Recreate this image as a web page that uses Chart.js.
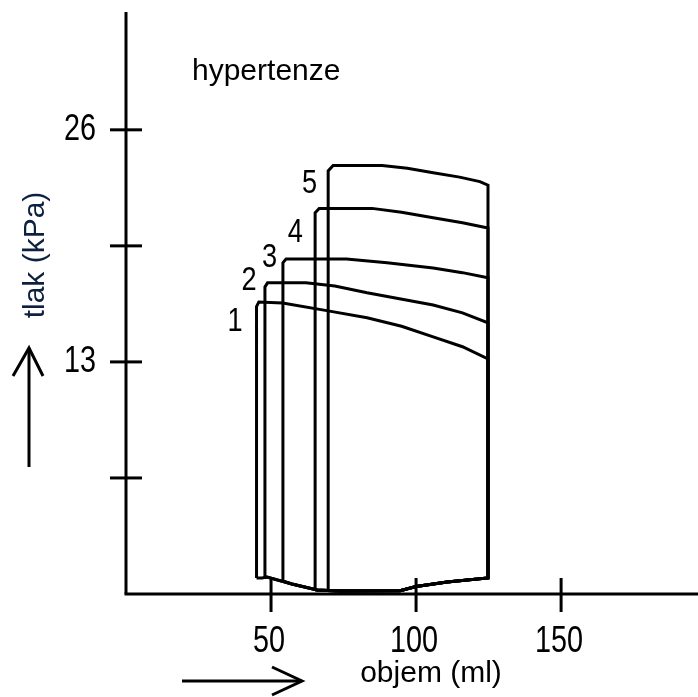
<!DOCTYPE html>
<html>
<head>
<meta charset="utf-8">
<title>hypertenze</title>
<script src="https://cdn.jsdelivr.net/npm/chart.js@4.4.1/dist/chart.umd.min.js"></script>
<style>
    html, body { margin: 0; padding: 0; background: #fff; }
    canvas { display: block; }
</style>
</head>
<body>
<canvas id="pvChart" width="698" height="697"></canvas>
<script>
// P-V loops, volume in ml, pressure in kPa
const loop1Vol = [45, 45, 45.8, 54, 69.7, 83.1, 95, 105.9, 116, 124.8, 124.8, 110.7, 100, 94.5, 73.8, 65.9, 57.2, 48.6, 46.9, 45];
const loop1Pres = [0.9, 16.1, 16.36, 16.3, 15.86, 15.47, 15.0, 14.4, 13.85, 13.17, 0.9, 0.67, 0.42, 0.18, 0.17, 0.22, 0.56, 0.95, 0.9, 0.9];

const loop2Vol = [47.9, 47.9, 48.8, 62, 72, 83.1, 105.9, 116, 124.8, 124.8, 110.7, 100, 94.5, 73.8, 65.9, 57.2, 48.6, 47.9];
const loop2Pres = [0.92, 17.2, 17.43, 17.43, 17.25, 16.87, 16.19, 15.75, 15.19, 0.9, 0.67, 0.42, 0.18, 0.17, 0.22, 0.56, 0.95, 0.92];

const loop3Vol = [54.1, 54.1, 55.2, 76, 90, 105.9, 116, 124.8, 124.8, 110.7, 100, 94.5, 73.8, 65.9, 57.2, 54.1];
const loop3Pres = [0.73, 18.55, 18.77, 18.77, 18.55, 18.26, 18.0, 17.71, 0.9, 0.67, 0.42, 0.18, 0.17, 0.22, 0.56, 0.73];

const loop4Vol = [65.2, 65.2, 66.6, 84.8, 95, 105.9, 116, 124.8, 124.8, 110.7, 100, 94.5, 73.8, 65.2];
const loop4Pres = [0.22, 21.35, 21.6, 21.6, 21.38, 21.07, 20.8, 20.5, 0.9, 0.67, 0.42, 0.18, 0.17, 0.22];

const loop5Vol = [69.7, 69.7, 71.4, 88.3, 97, 105.9, 115, 122, 124.8, 124.8, 110.7, 100, 94.5, 73.8, 69.7];
const loop5Pres = [0.18, 23.7, 24.0, 24.0, 23.85, 23.6, 23.35, 23.1, 22.9, 0.9, 0.67, 0.42, 0.18, 0.17, 0.18];

// loop numbers and where they sit
const loopNames = ["1", "2", "3", "4", "5"];
const labelVol = [37.6, 42.4, 49.5, 58.4, 63.3];
const labelPres = [15.27, 17.57, 18.86, 20.26, 22.97];

// axes
const xMax = 197.2;
const yMax = 32.6;
const xTickValues = [50, 100, 150];
const xTickLabels = ["50", "100", "150"];
const yTickValues = [6.5, 13, 19.5, 26];
const yTickLabels = ["", "13", "", "26"];

const titleText = "hypertenze";
const xTitle = "objem (ml)";
const yTitle = "tlak (kPa)";

const FONT = "'Liberation Sans', Arial, sans-serif";

function toPoints(vol, pres) {
    return vol.map((v, i) => ({ x: v, y: pres[i] }));
}

const loops = [
    toPoints(loop1Vol, loop1Pres),
    toPoints(loop2Vol, loop2Pres),
    toPoints(loop3Vol, loop3Pres),
    toPoints(loop4Vol, loop4Pres),
    toPoints(loop5Vol, loop5Pres)
];

function narrowText(ctx, text, x, y, align, sx) {
    ctx.save();
    ctx.translate(x, y);
    ctx.scale(sx, 1);
    ctx.textAlign = align;
    ctx.fillText(text, 0, 0);
    ctx.restore();
}

function line(ctx, x1, y1, x2, y2) {
    ctx.beginPath();
    ctx.moveTo(x1, y1);
    ctx.lineTo(x2, y2);
    ctx.stroke();
}

// axes, crossing ticks, labels and arrows
const axesPlugin = {
    id: "axesPlugin",
    afterDraw(chart) {
        const ctx = chart.ctx;
        const xs = chart.scales.x;
        const ys = chart.scales.y;
        const x0 = xs.getPixelForValue(0);
        const y0 = ys.getPixelForValue(0);

        ctx.save();
        ctx.strokeStyle = "#000";
        ctx.fillStyle = "#000";
        ctx.lineWidth = 3;
        ctx.lineCap = "butt";

        // axis lines
        line(ctx, x0, ys.getPixelForValue(yMax), x0, y0);
        line(ctx, x0 - 1.5, y0, xs.getPixelForValue(xMax), y0);

        ctx.textBaseline = "alphabetic";
        ctx.font = "36px " + FONT;

        yTickValues.forEach((v, i) => {
            const py = ys.getPixelForValue(v);
            line(ctx, x0 - 16, py, x0 + 16, py);
            if (yTickLabels[i]) {
                narrowText(ctx, yTickLabels[i], x0 - 30, py + 10.5, "right", 0.8);
            }
        });

        xTickValues.forEach((v, i) => {
            const px = xs.getPixelForValue(v);
            line(ctx, px, y0 - 16, px, y0 + 18);
            narrowText(ctx, xTickLabels[i], px - 2, y0 + 58, "center", 0.8);
        });

        // loop numbers
        ctx.font = "34px " + FONT;
        ctx.textBaseline = "middle";
        loopNames.forEach((name, i) => {
            narrowText(ctx, name, xs.getPixelForValue(labelVol[i]), ys.getPixelForValue(labelPres[i]), "center", 0.8);
        });

        // titles
        ctx.font = "30px " + FONT;
        ctx.textBaseline = "alphabetic";
        ctx.textAlign = "left";
        ctx.fillText(titleText, x0 + 66, 80);

        ctx.textAlign = "center";
        ctx.fillText(xTitle, 431, 682);

        ctx.save();
        ctx.translate(44, 255);
        ctx.rotate(-Math.PI / 2);
        ctx.fillStyle = "#0d2040";
        ctx.fillText(yTitle, 0, 0);
        ctx.restore();

        // direction arrows
        line(ctx, 29, 348, 29, 467);
        ctx.beginPath();
        ctx.moveTo(13, 376);
        ctx.lineTo(29, 348);
        ctx.lineTo(43, 376);
        ctx.stroke();

        line(ctx, 182, 681, 302, 681);
        ctx.beginPath();
        ctx.moveTo(272, 667);
        ctx.lineTo(302, 681);
        ctx.lineTo(272, 695);
        ctx.stroke();

        ctx.restore();
    }
};

new Chart("pvChart", {
    type: "scatter",
    data: {
        datasets: loops.map((pts, i) => ({
            label: loopNames[i],
            data: pts,
            showLine: true,
            borderColor: "#000",
            borderWidth: 3,
            pointRadius: 0,
            tension: 0,
            fill: false,
            clip: false
        }))
    },
    options: {
        responsive: false,
        animation: false,
        devicePixelRatio: 1,
        layout: {
            padding: { left: 126, top: 12, right: 0, bottom: 103 }
        },
        plugins: {
            legend: { display: false },
            tooltip: { enabled: false }
        },
        scales: {
            x: { type: "linear", min: 0, max: xMax, display: false },
            y: { type: "linear", min: 0, max: yMax, display: false }
        }
    },
    plugins: [axesPlugin]
});
</script>
</body>
</html>
